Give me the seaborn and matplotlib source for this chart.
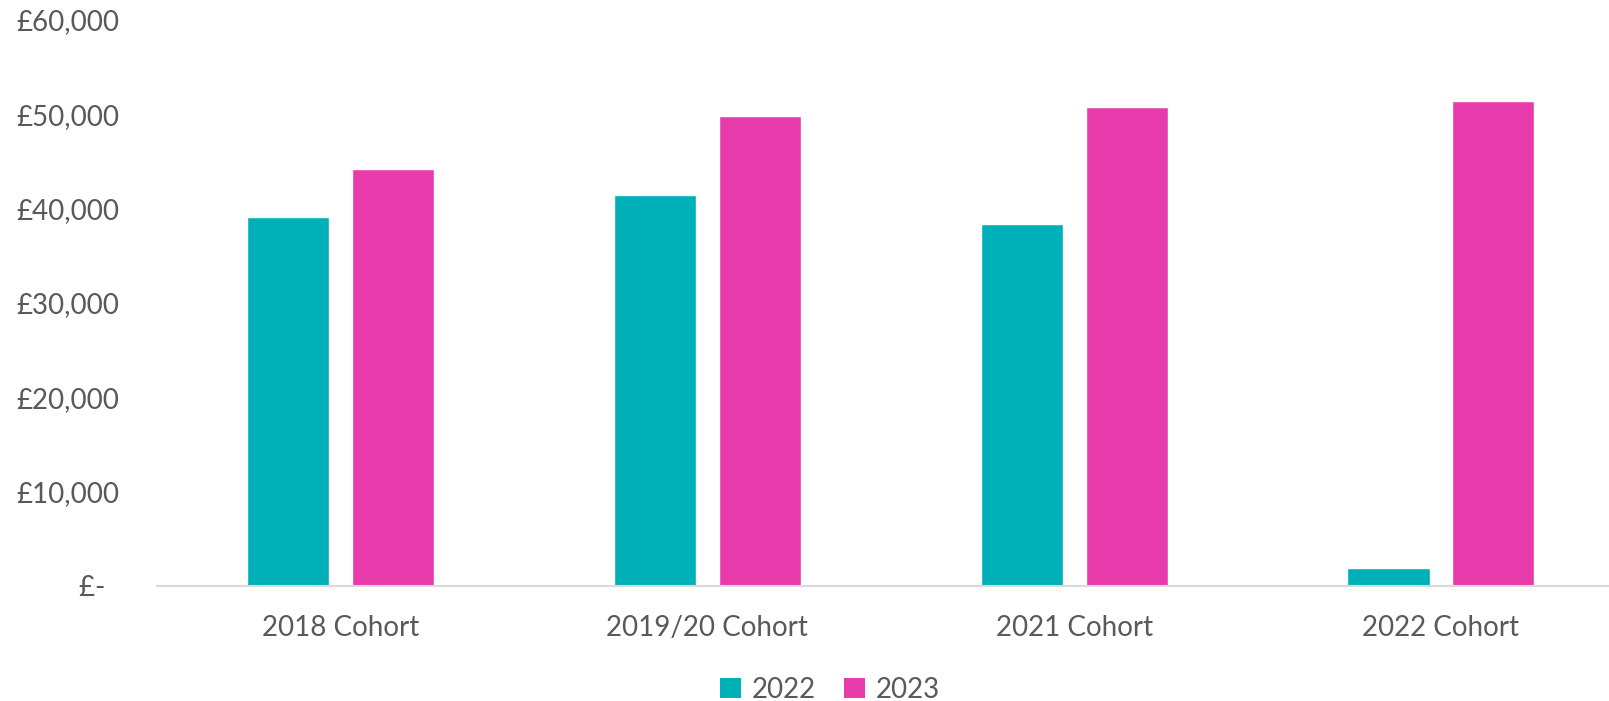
import matplotlib
matplotlib.use("Agg")
import matplotlib.pyplot as plt
from matplotlib.patches import Patch
import seaborn as sns
import pandas as pd

# Average earnings by cohort, two survey years
cohorts = ["2018 Cohort", "2019/20 Cohort", "2021 Cohort", "2022 Cohort"]
earnings_2022 = [39100, 41400, 38400, 1900]
earnings_2023 = [44200, 49800, 50800, 51400]
years = ["2022", "2023"]
y_ticks = [0, 10000, 20000, 30000, 40000, 50000, 60000]
y_tick_labels = ["£-  ", "£10,000", "£20,000", "£30,000", "£40,000", "£50,000", "£60,000"]

colors = {"2022": "#00B0B9", "2023": "#E83BAC"}
text_color = "#595959"

df = pd.DataFrame({
    "cohort": cohorts * 2,
    "year": [years[0]] * len(cohorts) + [years[1]] * len(cohorts),
    "earnings": earnings_2022 + earnings_2023,
})

sns.set_theme(style="white")
plt.rcParams["font.family"] = ["Lato", "DejaVu Sans"]

fig = plt.figure(figsize=(16.09, 7.01), dpi=100)
ax = fig.add_axes([157 / 1609, 115 / 701, (1609 - 157) / 1609, 566 / 701])

sns.barplot(data=df, x="cohort", y="earnings", hue="year", order=cohorts,
            hue_order=years, palette=colors, width=0.572, gap=0.218,
            saturation=1, errorbar=None, legend=False, ax=ax)

ax.set_xlim(-0.5, 3.458)
ax.set_ylim(0, 60000)
ax.set_yticks(y_ticks)
ax.set_yticklabels(y_tick_labels)
ax.set_xlabel("")
ax.set_ylabel("")

for side in ["top", "right", "left"]:
    ax.spines[side].set_visible(False)
ax.spines["bottom"].set_color("#D9D9D9")
ax.spines["bottom"].set_linewidth(1.5)

ax.tick_params(axis="y", length=0, pad=27, labelsize=20, labelcolor=text_color)
ax.tick_params(axis="x", length=0, pad=21, labelsize=20, labelcolor=text_color)

handles = [Patch(facecolor=colors[y], edgecolor="none", label=y) for y in years]
fig.legend(handles=handles, loc="center", bbox_to_anchor=(830 / 1609, 1 - 690 / 701),
           ncol=2, frameon=False, fontsize=20, labelcolor=text_color,
           handlelength=0.75, handleheight=0.75, handletextpad=0.4, columnspacing=1.0)

fig.savefig("out.png", dpi=100)
